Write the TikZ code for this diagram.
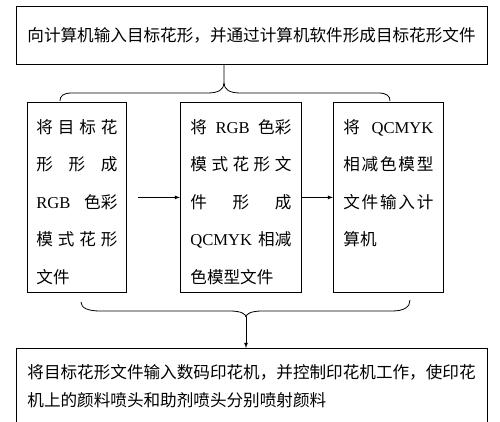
\documentclass[tikz,border=0pt]{standalone}
\usepackage{fontspec}
\setmainfont{Noto Sans CJK SC}
\newfontfamily\lat{Liberation Serif}
\usepackage{tikz}
\newcommand\jl[1]{\makebox[\linewidth][s]{#1}}

\begin{document}
\begin{tikzpicture}[x=1pt,y=-1pt,line width=0.8pt,
	col/.style={draw,anchor=north west,align=left,text width=#1,inner xsep=9pt,inner ysep=0pt,
		text height=31pt,text depth=159pt,font=\fontsize{16.6}{37.5}\selectfont}]
	\useasboundingbox (0,0) rectangle (500,422);
	        \node[draw,minimum width=471pt,minimum height=58pt,inner sep=0pt,font=\fontsize{16.6}{20}\selectfont]
	        	at (251.5,35) (input) {向计算机输入目标花形，并通过计算机软件形成目标花形文件};
	        \node[col=81pt] at (27,102) (rgb) {\jl{将\hfill 目\hfill 标\hfill 花}\\
	        	\jl{形\hfill 形\hfill 成}\\ \jl{{\lat RGB}\hfill 色彩}\\ \jl{模\hfill 式\hfill 花\hfill 形}\\ 文件};
	        \node[col=101pt,inner xsep=10pt] at (180,102) (cmyk) {\jl{将\hfill{\lat RGB}\hfill 色彩}\\
	        	\jl{模\hfill 式\hfill 花\hfill 形\hfill 文}\\ \jl{件\hfill 形\hfill 成}\\
	        	\jl{{\lat QCMYK}\hfill 相减}\\ 色模型文件};
	        \node[col=90pt,inner xsep=10pt] at (333,102) (load) {\jl{将\hfill{\lat QCMYK}}\\
	        	\jl{相\hfill 减\hfill 色\hfill 模\hfill 型}\\ \jl{文\hfill 件\hfill 输\hfill 入\hfill 计}\\ 算机};
	        \node[draw,anchor=north west,align=left,text width=449pt,inner xsep=11pt,inner ysep=0pt,
	        	text height=30pt,text depth=62pt,font=\fontsize{16.6}{28}\selectfont] at (16,348) (print)
	        	{将目标花形文件输入数码印花机，并控制印花机工作，使印花\\ 机上的颜料喷头和助剂喷头分别喷射颜料};
		
			% braces
			\coordinate (split) at (224,83);
			\coordinate (join) at (246,317);
			\draw (input.south -| split) -- (split)
				.. controls (224,89) and (219,93) .. (208,93) -- (72,93) .. controls (63,93) and (60,96) .. (60,101);
			\draw (split) .. controls (224,89) and (229,93) .. (240,93) -- (378,93) .. controls (387,93) and (390,96) .. (390,101);
			\draw (join) .. controls (246,314) and (241,311) .. (230,311) -- (100,311) .. controls (88,311) and (81,308) .. (81,302);
			\draw (join) .. controls (246,314) and (251,311) .. (262,311) -- (392,311) .. controls (404,311) and (410,307) .. (410,300);
		
			\path[-latex] (rgb) edge[shorten <=11pt] (cmyk)
					(cmyk) edge (load)
					(join) edge (join |- print.north);
		\end{tikzpicture}
\end{document}
